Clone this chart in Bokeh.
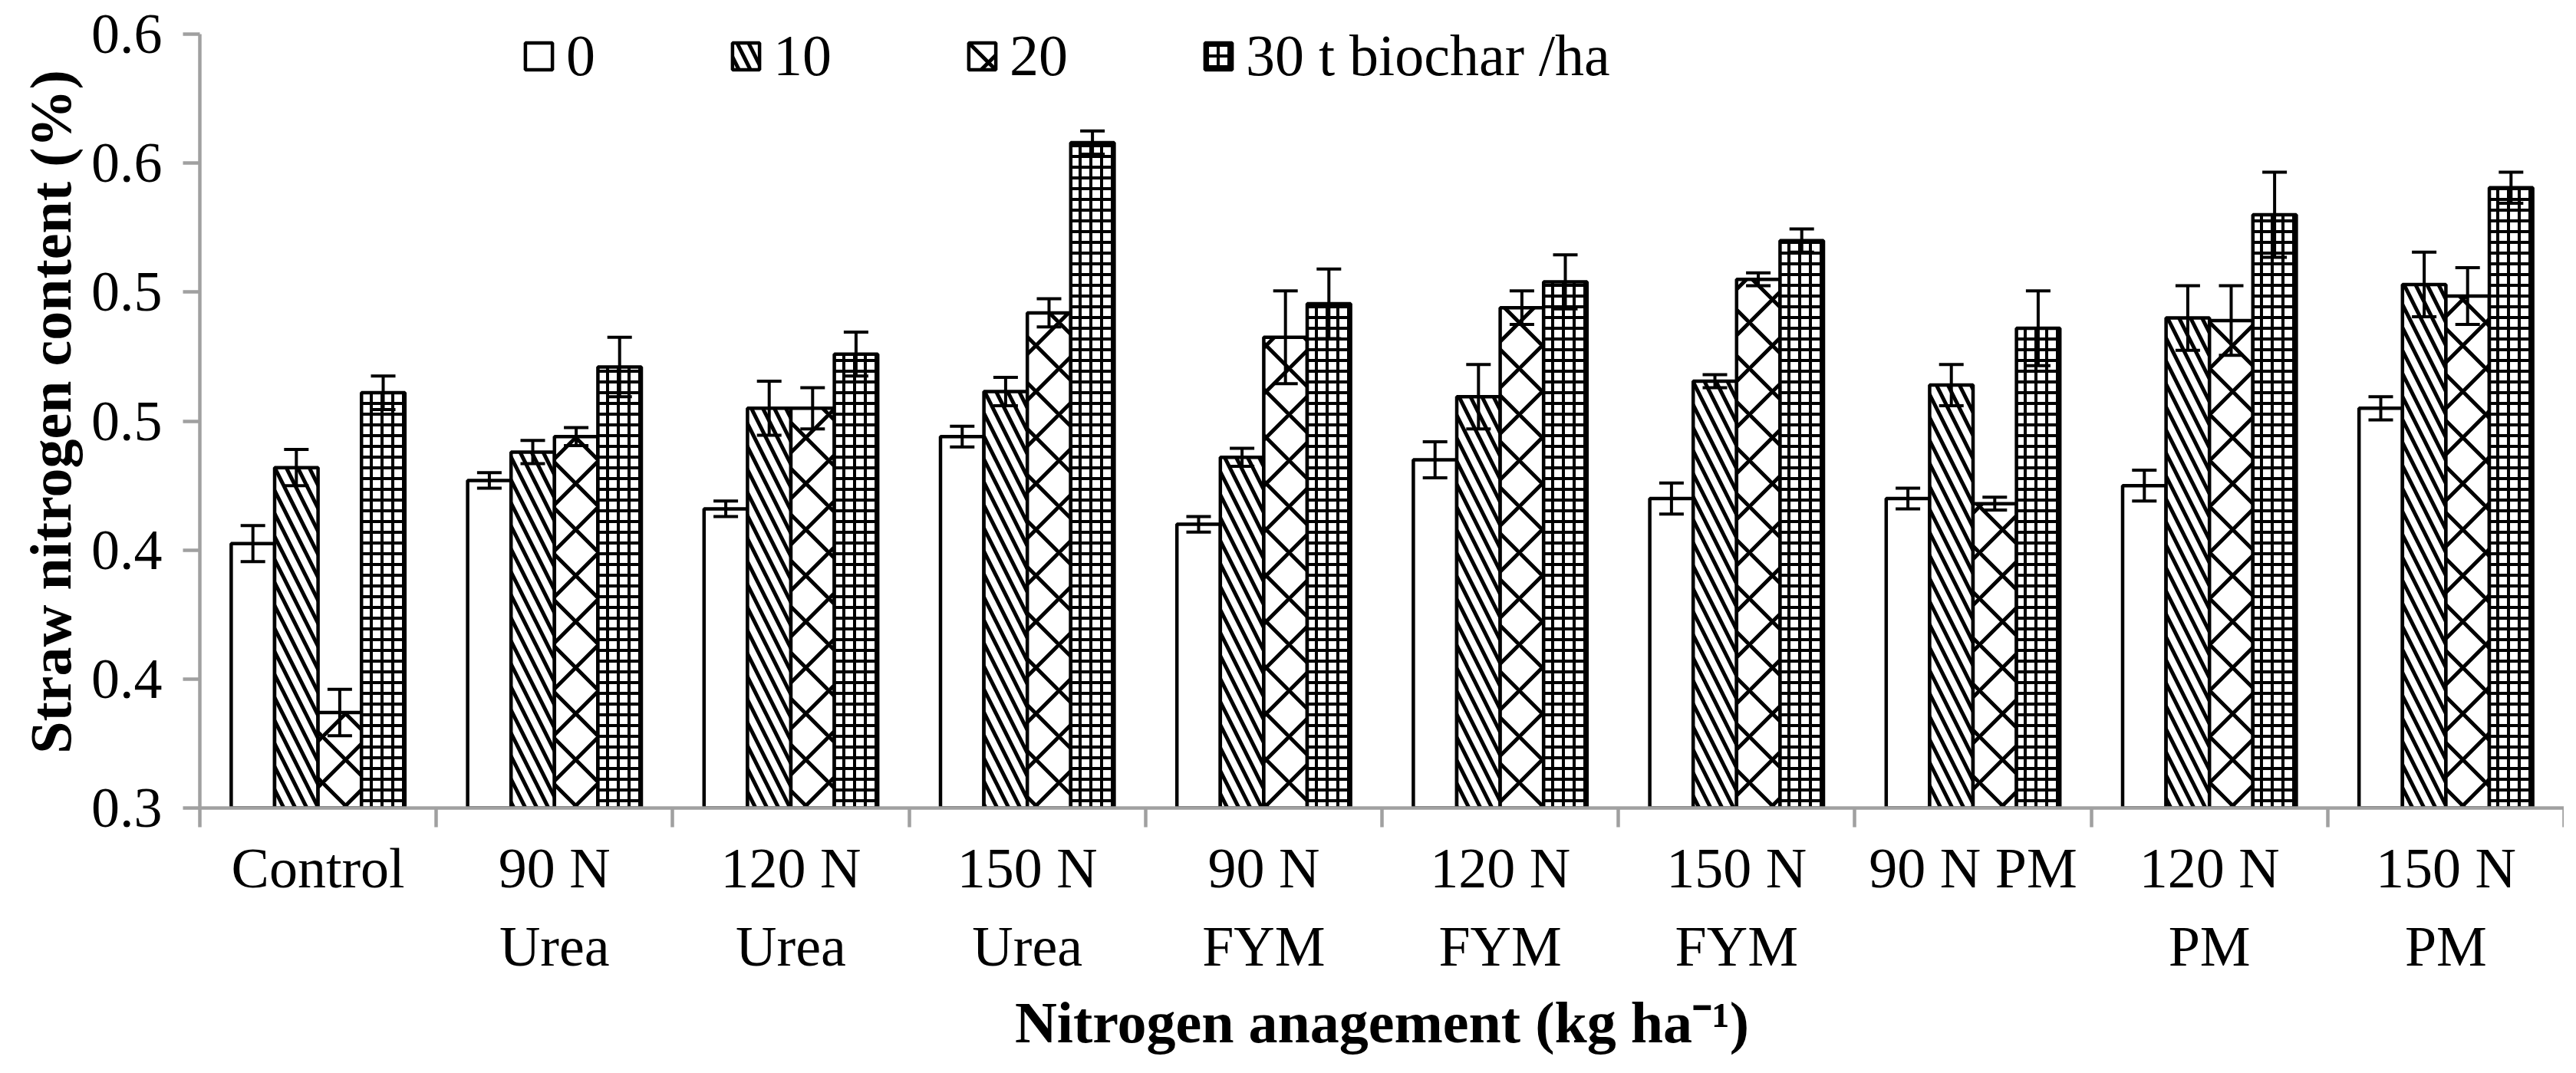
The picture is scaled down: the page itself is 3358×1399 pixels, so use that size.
import numpy as np
from bokeh.plotting import figure
from bokeh.models import (ColumnDataSource, FixedTicker, Whisker, TeeHead, Legend,
                          LegendItem, Range1d)
from bokeh.embed import file_html
from bokeh.resources import INLINE

# ---------------- data ----------------
categories = ["Control", "90 N\nUrea", "120 N\nUrea", "150 N\nUrea", "90 N\nFYM",
              "120 N\nFYM", "150 N\nFYM", "90 N PM", "120 N\nPM", "150 N\nPM"]
series_names = ["0", "10", "20", "30 t biochar /ha"]

vals_0 = [0.4025, 0.427, 0.416, 0.444, 0.410, 0.435, 0.420, 0.420, 0.425, 0.455]
vals_10 = [0.432, 0.438, 0.455, 0.4615, 0.436, 0.4595, 0.4655, 0.464, 0.490, 0.503]
vals_20 = [0.337, 0.444, 0.455, 0.492, 0.4825, 0.494, 0.505, 0.418, 0.489, 0.4985]
vals_30 = [0.461, 0.471, 0.476, 0.558, 0.4955, 0.504, 0.520, 0.486, 0.530, 0.5405]

err_0 = [0.007, 0.003, 0.003, 0.004, 0.003, 0.007, 0.006, 0.004, 0.006, 0.0045]
err_10 = [0.007, 0.0045, 0.0105, 0.0055, 0.0035, 0.0125, 0.0025, 0.008, 0.0125, 0.0125]
err_20 = [0.009, 0.0035, 0.008, 0.0055, 0.018, 0.0065, 0.0025, 0.0025, 0.0135, 0.011]
err_30 = [0.0065, 0.0115, 0.0085, 0.0045, 0.0135, 0.0105, 0.0045, 0.0145, 0.0165, 0.006]

y_ticks = [0.30, 0.35, 0.40, 0.45, 0.50, 0.55, 0.60]
y_tick_labels = ["0.3", "0.4", "0.4", "0.5", "0.5", "0.6", "0.6"]

x_title = "Nitrogen anagement (kg ha\u207b\u00b9)"
y_title = "Straw nitrogen content (%)"

# ---------------- styling ----------------
FONT = "Liberation Serif"
GRAY = "#a0a0a0"
BAR_W = 0.1836
OFFSETS = [-0.2755, -0.0918, 0.0918, 0.2755]
Y_MIN, Y_AXIS_MAX, Y_VIEW_MAX = 0.3, 0.6, 0.6072   # a little headroom for the legend

hatches = [
    dict(hatch_pattern=" "),
    dict(hatch_pattern="\\", hatch_scale=30, hatch_weight=5),
    dict(hatch_pattern="x", hatch_scale=60, hatch_weight=5),
    dict(hatch_pattern="+", hatch_scale=14, hatch_weight=4),
]

p = figure(width=3342, height=1383, output_backend="svg", toolbar_location=None,
           x_range=Range1d(0, 10), y_range=Range1d(Y_MIN, Y_VIEW_MAX),
           min_border_left=260, min_border_right=0, min_border_top=20,
           min_border_bottom=330)
p.outline_line_color = None
p.xgrid.visible = False
p.ygrid.visible = False
p.background_fill_color = "white"

all_vals = [vals_0, vals_10, vals_20, vals_30]
all_errs = [err_0, err_10, err_20, err_30]
centers = np.arange(len(categories)) + 0.5

items = []
for k in range(4):
    v = np.array(all_vals[k])
    e = np.array(all_errs[k])
    src = ColumnDataSource(dict(x=centers + OFFSETS[k], top=v, upper=v + e, lower=v - e))
    r = p.vbar(x="x", top="top", bottom=Y_MIN, width=BAR_W, source=src,
               fill_color="white", line_color="black", line_width=4.5,
               hatch_color="black", hatch_alpha=1.0, **hatches[k])
    items.append(LegendItem(label=series_names[k], renderers=[r]))
    w = Whisker(source=src, base="x", upper="upper", lower="lower", dimension="height",
                line_color="black", line_width=4,
                upper_head=TeeHead(size=32, line_width=4, line_color="black"),
                lower_head=TeeHead(size=32, line_width=4, line_color="black"),
                level="annotation")
    p.add_layout(w)

# ---------------- axes ----------------
xa = p.xaxis[0]
xa.ticker = FixedTicker(ticks=list(centers), minor_ticks=list(np.arange(len(categories) + 1)))
xa.major_label_overrides = {float(c): lab for c, lab in zip(centers, categories)}
xa.major_tick_out = 0
xa.major_tick_in = 0
xa.major_tick_line_color = None
xa.minor_tick_out = 25
xa.minor_tick_in = 0
xa.minor_tick_line_color = GRAY
xa.minor_tick_line_width = 4.5
xa.axis_line_color = GRAY
xa.axis_line_width = 4.5
xa.major_label_standoff = 12
xa.major_label_text_font = FONT
xa.major_label_text_font_size = "74px"
xa.major_label_text_color = "black"
xa.major_label_text_line_height = 1.25
xa.axis_label = x_title
xa.axis_label_text_font = FONT
xa.axis_label_text_font_size = "76px"
xa.axis_label_text_font_style = "bold"
xa.axis_label_text_color = "black"
xa.axis_label_standoff = 13

ya = p.yaxis[0]
ya.bounds = (Y_MIN, Y_AXIS_MAX)
ya.ticker = FixedTicker(ticks=y_ticks)
ya.major_label_overrides = {t: lab for t, lab in zip(y_ticks, y_tick_labels)}
ya.major_tick_out = 22
ya.major_tick_in = 0
ya.major_tick_line_color = GRAY
ya.major_tick_line_width = 4.5
ya.minor_tick_out = 0
ya.minor_tick_in = 0
ya.axis_line_color = GRAY
ya.axis_line_width = 4.5
ya.major_label_standoff = 27
ya.major_label_text_font = FONT
ya.major_label_text_font_size = "74px"
ya.major_label_text_color = "black"
ya.axis_label = y_title
ya.axis_label_text_font = FONT
ya.axis_label_text_font_size = "76px"
ya.axis_label_text_font_style = "bold"
ya.axis_label_text_color = "black"
ya.axis_label_standoff = 8

legend = Legend(items=items, orientation="horizontal", location=(420, 937),
                glyph_width=44, glyph_height=44, label_standoff=14, spacing=174,
                padding=10, margin=0, border_line_color=None, background_fill_alpha=0,
                label_text_font=FONT, label_text_font_size="76px",
                label_text_color="black")
p.add_layout(legend)

open("out.html", "w").write(file_html(p, INLINE))
